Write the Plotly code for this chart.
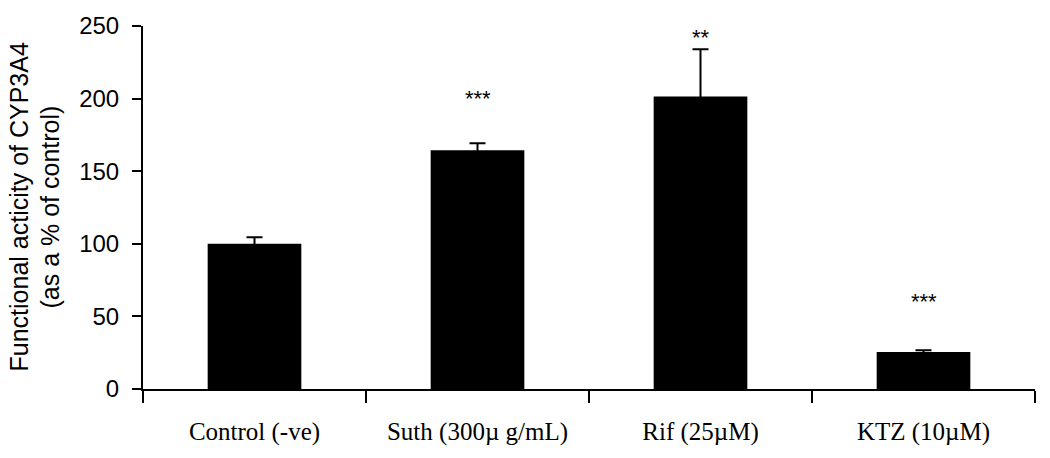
import plotly.graph_objects as go

categories = ["Control (-ve)", "Suth (300µ g/mL)", "Rif (25µM)", "KTZ (10µM)"]
values = [100, 164.5, 201.5, 25.5]
errors = [4.5, 4.8, 32.5, 1.2]
stars = ["", "***", "**", "***"]
star_y = [None, 201.8, 244.0, 62.5]
y_ticks = [0, 50, 100, 150, 200, 250]

fig = go.Figure()
fig.add_trace(go.Bar(
    x=categories, y=values,
    marker=dict(color="black", line=dict(color="black", width=0)),
    error_y=dict(type="data", array=errors, visible=True, color="black", thickness=2, width=8),
    width=0.42,
))

for c, s, sy in zip(categories, stars, star_y):
    if s:
        fig.add_annotation(x=c, y=sy, text=s, showarrow=False, xref="x", yref="y",
                           font=dict(family="Liberation Sans, Arial", size=22, color="black"),
                           yanchor="middle", yshift=-3)

fig.add_annotation(xref="paper", yref="paper", x=0, y=0.5, xshift=-125, text="Functional acticity of CYP3A4",
                   textangle=-90, showarrow=False, xanchor="center", yanchor="middle",
                   font=dict(family="Liberation Sans, Arial", size=25, color="black"))
fig.add_annotation(xref="paper", yref="paper", x=0, y=0.5, xshift=-94, text="(as a % of control)",
                   textangle=-90, showarrow=False, xanchor="center", yanchor="middle",
                   font=dict(family="Liberation Sans, Arial", size=25, color="black"))

fig.update_layout(
    width=1050, height=458,
    margin=dict(l=143, r=15, t=24, b=69),
    plot_bgcolor="white", paper_bgcolor="white",
    showlegend=False,
    xaxis=dict(
        type="category", range=[-0.5, 3.5],
        showline=True, linecolor="black", linewidth=2,
        ticks="outside", tickson="boundaries", ticklen=12, tickwidth=2, tickcolor="black",
        tickfont=dict(family="Liberation Serif, Times New Roman", size=25, color="black"),
        ticklabelstandoff=19,
        showgrid=False, zeroline=False,
    ),
    yaxis=dict(
        range=[0, 250], tickvals=y_ticks,
        showline=True, linecolor="black", linewidth=2,
        ticks="outside", ticklen=9, tickwidth=2, tickcolor="black",
        tickfont=dict(family="Liberation Sans, Arial", size=24, color="black"),
        ticklabelstandoff=8,
        showgrid=False, zeroline=False,
    ),
)

fig.write_html("out.html", config={"displayModeBar": False},
               post_script="document.body.style.margin='0';")
